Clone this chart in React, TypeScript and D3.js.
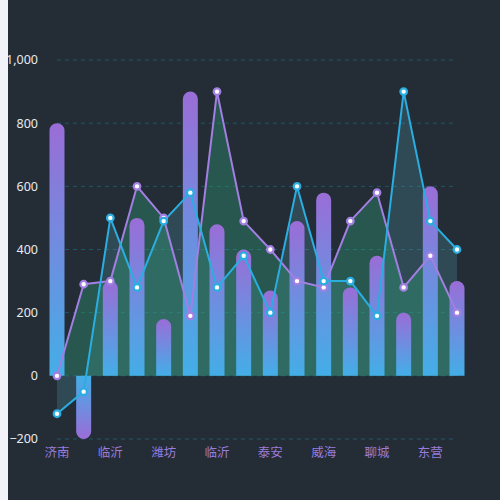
import React from 'react';
import * as d3 from 'd3';

// 16 cities, only every other label is shown on the axis
const cities = ['济南', '青岛', '临沂', '枣庄', '潍坊', '淄博', '临沂', '日照', '泰安', '济宁', '威海', '烟台', '聊城', '德州', '东营', '滨州'];
const barValues = [800, -200, 300, 500, 180, 900, 480, 400, 270, 490, 580, 280, 380, 200, 600, 300];
const purpleValues = [0, 290, 300, 600, 500, 190, 900, 490, 400, 300, 280, 490, 580, 280, 380, 200];
const blueValues = [-120, -50, 500, 280, 490, 580, 280, 380, 200, 600, 300, 300, 190, 900, 490, 400];
const yTicks = [-200, 0, 200, 400, 600, 800, 1000];

const W = 492;
const H = 500;
const margin = { left: 49, right: 43, top: 60, bottom: 61 };

function barPath(x: number, y0: number, y1: number, w: number) {
  // rounded at the value end only
  const r = Math.min(w / 2, Math.abs(y1 - y0));
  const l = x - w / 2;
  const rr = x + w / 2;
  if (y1 < y0) {
    return `M${l},${y0}L${l},${y1 + r}A${r},${r} 0 0 1 ${rr},${y1 + r}L${rr},${y0}Z`;
  }
  return `M${l},${y0}L${l},${y1 - r}A${r},${r} 0 0 0 ${rr},${y1 - r}L${rr},${y0}Z`;
}

export default function App() {
  const x = d3.scalePoint<number>()
    .domain(d3.range(cities.length))
    .range([margin.left, W - margin.right]);
  const y = d3.scaleLinear()
    .domain([-200, 1000])
    .range([H - margin.bottom, margin.top]);
  const fmt = d3.format(',');
  const bw = 15;

  const line = d3.line<number>().x((_, i) => x(i)!).y(d => y(d));
  const area = d3.area<number>().x((_, i) => x(i)!).y0(y(0)).y1(d => y(d));

  return (
    <div style={{ position: 'fixed', inset: 0, background: '#f1f3f8' }}>
      <svg width={W} height={H} style={{ position: 'absolute', left: 8, top: 0, background: '#242c36', overflow: 'hidden' }}>
        <defs>
          <linearGradient id="barUp" x1="0" y1="0" x2="0" y2="1">
            <stop offset="0%" stopColor="#9a6dd7" />
            <stop offset="100%" stopColor="#43aee7" />
          </linearGradient>
          <linearGradient id="barDown" x1="0" y1="1" x2="0" y2="0">
            <stop offset="0%" stopColor="#9a6dd7" />
            <stop offset="100%" stopColor="#43aee7" />
          </linearGradient>
        </defs>

        {yTicks.map(t => (
          <g key={t}>
            <line x1={x.range()[0]} x2={x.range()[1]} y1={y(t)} y2={y(t)}
              stroke="#1e5767" strokeWidth={1} strokeDasharray="4 4" />
            <text x={30} y={y(t)} dy="0.35em" textAnchor="end" fill="#e8eaee"
              fontSize={12.5} fontFamily="'Noto Sans', sans-serif">{fmt(t)}</text>
          </g>
        ))}

        <path d={area(blueValues)!} fill="rgba(75,146,160,0.3)" />
        <path d={area(purpleValues)!} fill="rgba(46,169,124,0.35)" />

        {barValues.map((v, i) => (
          <path key={i} d={barPath(x(i)!, y(0), y(v), bw)}
            fill={v >= 0 ? 'url(#barUp)' : 'url(#barDown)'} />
        ))}

        <path d={line(purpleValues)!} fill="none" stroke="#a27fe2" strokeWidth={2} />
        <path d={line(blueValues)!} fill="none" stroke="#2aaee2" strokeWidth={2} />

        {purpleValues.map((v, i) => (
          <circle key={'p' + i} cx={x(i)} cy={y(v)} r={3.3} fill="#fff" stroke="#a27fe2" strokeWidth={2.2} />
        ))}
        {blueValues.map((v, i) => (
          <circle key={'b' + i} cx={x(i)} cy={y(v)} r={3.3} fill="#fff" stroke="#2aaee2" strokeWidth={2.2} />
        ))}

        {cities.map((c, i) => i % 2 === 0 && (
          <text key={'c' + i} x={x(i)} y={H - margin.bottom + 14} dy="0.35em" textAnchor="middle"
            fill="#9b7ddb" fontSize={12.5} fontFamily="'Noto Sans CJK SC', sans-serif">{c}</text>
        ))}
      </svg>
    </div>
  );
}
